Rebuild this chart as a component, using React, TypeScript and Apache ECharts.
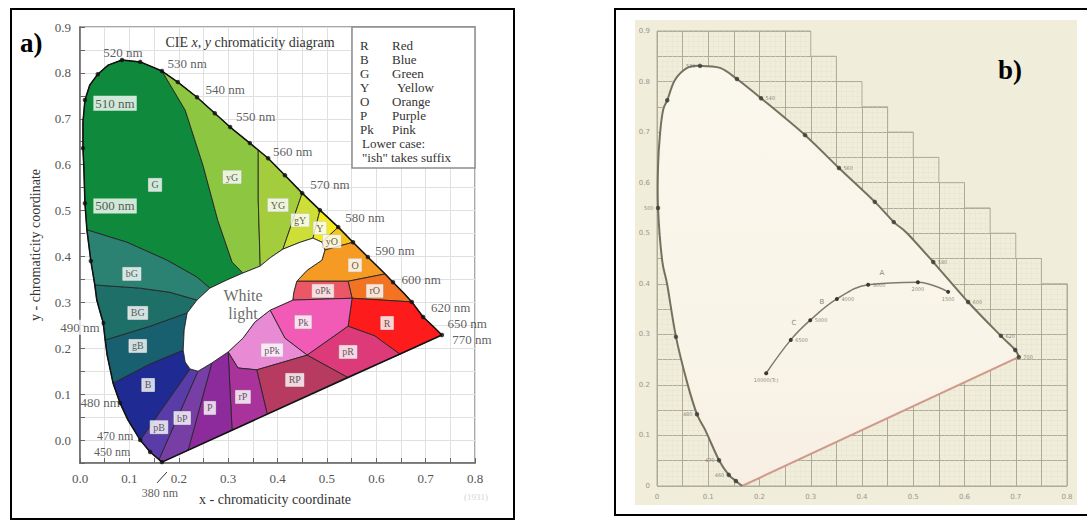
import React, { useEffect, useRef } from 'react';
import * as echarts from 'echarts';

type P = [number, number];
const SERIF = '"Liberation Serif", "DejaVu Serif", serif';
const SANS = '"DejaVu Sans", "Liberation Sans", sans-serif';

// ================= Panel a : CIE x,y diagram with colour names =================
const A_X_TICKS = [0, 0.1, 0.2, 0.3, 0.4, 0.5, 0.6, 0.7, 0.8];
const A_Y_TICKS = [0, 0.1, 0.2, 0.3, 0.4, 0.5, 0.6, 0.7, 0.8, 0.9];

// spectral locus, from 380 nm up the blue/green side and down to 770 nm
const LOCUS_A: P[] = [
  [0.166, -0.048], [0.142, -0.026], [0.122, 0.0], [0.097, 0.044], [0.081, 0.081], [0.067, 0.124],
  [0.055, 0.185], [0.051, 0.218], [0.047, 0.255], [0.034, 0.305], [0.03, 0.338], [0.022, 0.39],
  [0.014, 0.458], [0.01, 0.516], [0.008, 0.588], [0.006, 0.636], [0.006, 0.693], [0.01, 0.741],
  [0.02, 0.774], [0.036, 0.797], [0.057, 0.817], [0.085, 0.828], [0.122, 0.824], [0.166, 0.804],
  [0.198, 0.78], [0.237, 0.747], [0.273, 0.712], [0.304, 0.682], [0.344, 0.647], [0.361, 0.632],
  [0.381, 0.614], [0.415, 0.577], [0.45, 0.538], [0.486, 0.501], [0.523, 0.464], [0.553, 0.431],
  [0.583, 0.399], [0.618, 0.362], [0.634, 0.344], [0.656, 0.32], [0.672, 0.301], [0.695, 0.268],
  [0.715, 0.248], [0.733, 0.229],
];
const DOTS_A: P[] = [
  [0.166, -0.048], [0.142, -0.026], [0.122, 0.0], [0.081, 0.081], [0.047, 0.255], [0.022, 0.39],
  [0.01, 0.516], [0.006, 0.636], [0.01, 0.741], [0.036, 0.797], [0.085, 0.828], [0.122, 0.824],
  [0.166, 0.804], [0.198, 0.78], [0.237, 0.747], [0.273, 0.712], [0.304, 0.682], [0.344, 0.647],
  [0.381, 0.614], [0.415, 0.577], [0.45, 0.538], [0.486, 0.501], [0.523, 0.464], [0.553, 0.431],
  [0.583, 0.399], [0.634, 0.344], [0.672, 0.301], [0.695, 0.268], [0.733, 0.229],
];

const REG_G: P[] = [[0.014, 0.458], [0.01, 0.516], [0.008, 0.588], [0.006, 0.636], [0.006, 0.693], [0.01, 0.741], [0.02, 0.774], [0.036, 0.797], [0.057, 0.817], [0.085, 0.828], [0.122, 0.824], [0.166, 0.804], [0.213, 0.719], [0.249, 0.599], [0.279, 0.479], [0.308, 0.388], [0.33, 0.364], [0.298, 0.349], [0.263, 0.331], [0.237, 0.355], [0.176, 0.392], [0.095, 0.431]];
const REG_yG: P[] = [[0.166, 0.804], [0.198, 0.78], [0.237, 0.747], [0.273, 0.712], [0.304, 0.682], [0.344, 0.647], [0.361, 0.632], [0.361, 0.523], [0.365, 0.379], [0.33, 0.364], [0.308, 0.388], [0.279, 0.479], [0.249, 0.599], [0.213, 0.719]];
const REG_YG: P[] = [[0.361, 0.632], [0.381, 0.614], [0.415, 0.577], [0.45, 0.538], [0.411, 0.416], [0.385, 0.397], [0.365, 0.379], [0.361, 0.523]];
const REG_gY: P[] = [[0.45, 0.538], [0.486, 0.501], [0.472, 0.44], [0.446, 0.431], [0.411, 0.416]];
const REG_Y: P[] = [[0.486, 0.501], [0.523, 0.464], [0.49, 0.431], [0.472, 0.44]];
const REG_yO: P[] = [[0.523, 0.464], [0.553, 0.431], [0.496, 0.414], [0.49, 0.431]];
const REG_O: P[] = [[0.553, 0.431], [0.583, 0.399], [0.618, 0.362], [0.543, 0.346], [0.439, 0.346], [0.46, 0.37], [0.49, 0.392], [0.496, 0.414]];
const REG_rO: P[] = [[0.543, 0.346], [0.618, 0.362], [0.634, 0.344], [0.656, 0.32], [0.672, 0.301], [0.551, 0.309]];
const REG_oPk: P[] = [[0.439, 0.346], [0.543, 0.346], [0.551, 0.309], [0.431, 0.305], [0.433, 0.322]];
const REG_R: P[] = [[0.551, 0.309], [0.672, 0.301], [0.695, 0.268], [0.715, 0.248], [0.733, 0.229], [0.648, 0.187], [0.597, 0.227], [0.543, 0.248]];
const REG_Pk: P[] = [[0.431, 0.305], [0.551, 0.309], [0.543, 0.248], [0.46, 0.185], [0.415, 0.222], [0.385, 0.283]];
const REG_pR: P[] = [[0.543, 0.248], [0.597, 0.227], [0.648, 0.187], [0.541, 0.137], [0.46, 0.185]];
const REG_pPk: P[] = [[0.385, 0.283], [0.415, 0.222], [0.46, 0.185], [0.358, 0.153], [0.32, 0.157], [0.3, 0.192], [0.33, 0.222], [0.354, 0.257]];
const REG_RP: P[] = [[0.46, 0.185], [0.541, 0.137], [0.379, 0.057], [0.358, 0.153]];
const REG_rP: P[] = [[0.3, 0.192], [0.32, 0.157], [0.358, 0.153], [0.379, 0.057], [0.308, 0.022]];
const REG_P: P[] = [[0.267, 0.168], [0.3, 0.192], [0.308, 0.022], [0.219, -0.022]];
const REG_bP: P[] = [[0.239, 0.15], [0.267, 0.168], [0.219, -0.022], [0.166, -0.048], [0.16, -0.042]];
const REG_pB: P[] = [[0.223, 0.155], [0.239, 0.15], [0.16, -0.042], [0.142, -0.026], [0.122, 0.0]];
const REG_B: P[] = [[0.067, 0.124], [0.081, 0.081], [0.097, 0.044], [0.122, 0.0], [0.223, 0.155], [0.213, 0.17], [0.209, 0.196], [0.142, 0.166]];
const REG_gB: P[] = [[0.051, 0.218], [0.055, 0.185], [0.067, 0.124], [0.142, 0.166], [0.209, 0.196], [0.211, 0.24], [0.217, 0.277], [0.142, 0.248]];
const REG_BG: P[] = [[0.03, 0.338], [0.034, 0.305], [0.047, 0.255], [0.051, 0.218], [0.142, 0.248], [0.217, 0.277], [0.237, 0.305], [0.182, 0.322], [0.122, 0.331]];
const REG_bG: P[] = [[0.014, 0.458], [0.095, 0.431], [0.176, 0.392], [0.237, 0.355], [0.263, 0.331], [0.237, 0.305], [0.182, 0.322], [0.122, 0.331], [0.03, 0.338], [0.022, 0.39]];

const WHITE_A: P[] = [
  [0.209, 0.196], [0.211, 0.24], [0.217, 0.277], [0.237, 0.305], [0.263, 0.331], [0.298, 0.349],
  [0.33, 0.364], [0.365, 0.379], [0.385, 0.397], [0.411, 0.416], [0.446, 0.431], [0.472, 0.44],
  [0.49, 0.431], [0.496, 0.414], [0.49, 0.392], [0.46, 0.37], [0.439, 0.346], [0.433, 0.322],
  [0.431, 0.305], [0.385, 0.283], [0.354, 0.257], [0.33, 0.222], [0.3, 0.192], [0.267, 0.168],
  [0.239, 0.15], [0.223, 0.155], [0.213, 0.17],
];

const REGION_NAMES = ['G', 'yG', 'YG', 'gY', 'Y', 'yO', 'O', 'rO', 'oPk', 'R', 'Pk', 'pR', 'pPk', 'RP', 'rP', 'P', 'bP', 'pB', 'B', 'gB', 'BG', 'bG'];
const REGION_COLORS = ['#0f8a3c', '#8dc640', '#a3cd3c', '#cddf36', '#f3ea1f', '#f6c51c', '#f59a23', '#f27322', '#ec5768', '#fd1b1b', '#f15bb5', '#dc3a78', '#e98ad4', '#b73a60', '#a9339a', '#8d2b9d', '#773fa6', '#5a3ca8', '#1f2b93', '#186070', '#1e6f68', '#2b8172'];
const REGION_SHAPES = [REG_G, REG_yG, REG_YG, REG_gY, REG_Y, REG_yO, REG_O, REG_rO, REG_oPk, REG_R, REG_Pk, REG_pR, REG_pPk, REG_RP, REG_rP, REG_P, REG_bP, REG_pB, REG_B, REG_gB, REG_BG, REG_bG];
const REGION_LABEL_AT: P[] = [[0.152, 0.556], [0.308, 0.573], [0.401, 0.512], [0.446, 0.479], [0.486, 0.462], [0.51, 0.433], [0.557, 0.381], [0.597, 0.325], [0.492, 0.325], [0.622, 0.255], [0.452, 0.257], [0.543, 0.192], [0.389, 0.196], [0.435, 0.131], [0.33, 0.094], [0.263, 0.07], [0.207, 0.048], [0.16, 0.028], [0.138, 0.12], [0.117, 0.205], [0.117, 0.277], [0.105, 0.362]];

const NM_NAMES_A = ['520 nm', '530 nm', '540 nm', '550 nm', '560 nm', '570 nm', '580 nm', '590 nm', '600 nm', '620 nm', '650 nm', '770 nm', '510 nm', '500 nm', '490 nm', '480 nm', '470 nm', '450 nm', '380 nm'];
const NM_AT_A: P[] = [[0.087, 0.845], [0.217, 0.821], [0.294, 0.763], [0.356, 0.704], [0.431, 0.628], [0.506, 0.556], [0.577, 0.486], [0.638, 0.414], [0.691, 0.349], [0.751, 0.288], [0.784, 0.253], [0.794, 0.22], [0.071, 0.734], [0.071, 0.51], [0.0, 0.246], [0.041, 0.081], [0.071, 0.008], [0.065, -0.026], [0.162, -0.116]];
const NM_BOXED_A = ['510 nm', '500 nm', '490 nm'];
const NM_SMALL_A = ['470 nm', '450 nm', '380 nm'];
const CONNECTOR_380: P[] = [[0.156, -0.0935], [0.176, -0.0697]];

const LEGEND_CODES = ['R', 'B', 'G', 'Y', 'O', 'P', 'Pk'];
const LEGEND_NAMES = ['Red', 'Blue', 'Green', 'Yellow', 'Orange', 'Purple', 'Pink'];
const LEGEND_NOTES = ['Lower case:', '"ish" takes suffix'];

// ================= Panel b : CIE 1931 diagram with Planckian locus =================
const B_X_TICKS = [0, 0.1, 0.2, 0.3, 0.4, 0.5, 0.6, 0.7, 0.8];
const B_Y_TICKS = [0, 0.1, 0.2, 0.3, 0.4, 0.5, 0.6, 0.7, 0.8, 0.9];

const LOCUS_B: P[] = [
  [0.166, 0.0], [0.154, 0.01], [0.14, 0.022], [0.121, 0.051], [0.094, 0.111], [0.078, 0.142],
  [0.059, 0.204], [0.037, 0.295], [0.02, 0.398], [0.01, 0.447], [0.002, 0.55], [0.002, 0.631],
  [0.006, 0.698], [0.012, 0.744], [0.02, 0.763], [0.035, 0.803], [0.059, 0.827], [0.084, 0.831],
  [0.123, 0.827], [0.156, 0.805], [0.203, 0.767], [0.289, 0.694], [0.355, 0.629], [0.425, 0.562],
  [0.462, 0.522], [0.488, 0.5], [0.539, 0.443], [0.607, 0.364], [0.671, 0.297], [0.699, 0.269],
  [0.706, 0.255],
];
const DOTS_B: P[] = [
  [0.154, 0.01], [0.14, 0.022], [0.121, 0.051], [0.078, 0.142], [0.037, 0.295], [0.002, 0.55],
  [0.02, 0.763], [0.084, 0.831], [0.156, 0.805], [0.203, 0.767], [0.289, 0.694], [0.355, 0.629],
  [0.425, 0.562], [0.462, 0.522], [0.539, 0.443], [0.607, 0.364], [0.671, 0.297], [0.699, 0.269],
  [0.706, 0.255],
];
const PLANCK_B: P[] = [[0.213, 0.223], [0.261, 0.289], [0.299, 0.328], [0.351, 0.37], [0.412, 0.398], [0.509, 0.403], [0.568, 0.384]];
const STAIR_B: P[] = [
  [0.3, 0.9], [0.3, 0.85], [0.35, 0.85], [0.35, 0.8], [0.4, 0.8], [0.4, 0.75], [0.45, 0.75],
  [0.45, 0.7], [0.5, 0.7], [0.5, 0.65], [0.55, 0.65], [0.55, 0.6], [0.6, 0.6], [0.6, 0.55],
  [0.65, 0.55], [0.65, 0.5], [0.7, 0.5], [0.7, 0.45], [0.75, 0.45], [0.75, 0.4], [0.8, 0.4],
];
const TINY_NAMES_B = ['520', '540', '560', '580', '600', '620', '700', '500', '480', '470', '460', '10000(Tc)', '6500', '5000', '4000', '3000', '2000', '1500', 'A', 'B', 'C'];
const TINY_AT_B: P[] = [[0.084, 0.831], [0.203, 0.767], [0.355, 0.629], [0.539, 0.443], [0.607, 0.364], [0.671, 0.297], [0.706, 0.255], [0.002, 0.55], [0.078, 0.142], [0.121, 0.051], [0.14, 0.022], [0.213, 0.223], [0.261, 0.289], [0.299, 0.328], [0.351, 0.37], [0.412, 0.398], [0.509, 0.403], [0.568, 0.384], [0.439, 0.421], [0.322, 0.364], [0.267, 0.322]];
const TINY_POS_B = ['left', 'right', 'right', 'right', 'right', 'right', 'right', 'left', 'left', 'left', 'left', 'bottom', 'right', 'right', 'right', 'right', 'bottom', 'bottom', 'inside', 'inside', 'inside'];

const BG_B = '#f1eddb';

const isTick = (ticks: number[], v: number) => ticks.some((t) => Math.abs(t - v) < 1e-6);

function smoothD(pts: number[][]): string {
  let d = `M${pts[0][0]},${pts[0][1]}`;
  for (let i = 0; i < pts.length - 1; i++) {
    const p0 = pts[i - 1] || pts[i];
    const p1 = pts[i];
    const p2 = pts[i + 1];
    const p3 = pts[i + 2] || p2;
    const c1x = p1[0] + (p2[0] - p0[0]) / 6;
    const c1y = p1[1] + (p2[1] - p0[1]) / 6;
    const c2x = p2[0] - (p3[0] - p1[0]) / 6;
    const c2y = p2[1] - (p3[1] - p1[1]) / 6;
    d += ` C${c1x},${c1y} ${c2x},${c2y} ${p2[0]},${p2[1]}`;
  }
  return d;
}

function txt(text: string, x: number, y: number, font: string, align = 'left', fill = '#222', extra: any = {}) {
  return {
    type: 'text', z: 100, x, y, ...extra,
    style: { text, font, fill, align, textAlign: align, verticalAlign: 'middle', textVerticalAlign: 'middle' },
  };
}

function buildOption(): any {
  const graphics: any[] = [
    { type: 'rect', z: -10, shape: { x: 635, y: 20, width: 442, height: 485 }, style: { fill: BG_B } },
    { type: 'rect', z: 100, shape: { x: 11, y: 9, width: 503, height: 510 }, style: { fill: 'none', stroke: '#000', lineWidth: 2 } },
    { type: 'rect', z: 100, shape: { x: 615, y: 9, width: 480, height: 506 }, style: { fill: 'none', stroke: '#000', lineWidth: 2 } },
    { type: 'rect', z: 50, shape: { x: 352, y: 27, width: 123, height: 141 }, style: { fill: '#fff', stroke: '#8c8c8c', lineWidth: 1.5 } },
    txt('a)', 20, 43, `bold 27px ${SERIF}`, 'left', '#000'),
    txt('b)', 998, 70, `bold 27px ${SERIF}`, 'left', '#000'),
    {
      type: 'text', z: 100, x: 250, y: 42,
      style: {
        text: '{n|CIE }{i|x, y}{n| chromaticity diagram}',
        align: 'center', textAlign: 'center', verticalAlign: 'middle', textVerticalAlign: 'middle',
        rich: {
          n: { fontFamily: SERIF, fontSize: 14, fill: '#333', color: '#333' },
          i: { fontFamily: SERIF, fontSize: 14, fontStyle: 'italic', fill: '#333', color: '#333' },
        },
      },
    },
    txt('y - chromaticity coordinate', 35, 245, `14px ${SERIF}`, 'center', '#333', { rotation: Math.PI / 2 }),
    txt('x - chromaticity coordinate', 275, 499, `14px ${SERIF}`, 'center', '#333'),
    txt('(1931)', 476, 497, `9px ${SERIF}`, 'center', '#d4d4d4'),
  ];
  LEGEND_CODES.forEach((c, i) => {
    graphics.push(txt(c, 360, 45 + i * 14, `13px ${SERIF}`, 'left', '#333'));
    graphics.push(txt(LEGEND_NAMES[i], c === 'Y' ? 397 : 392, 45 + i * 14, `13px ${SERIF}`, 'left', '#333'));
  });
  LEGEND_NOTES.forEach((n, i) => graphics.push(txt(n, 362, 143 + i * 14, `13px ${SERIF}`, 'left', '#333')));

  const fmtA = (ticks: number[]) => (v: number) => (isTick(ticks, v) ? v.toFixed(1) : '');
  const fmtB = (ticks: number[]) => (v: number) => (isTick(ticks, v) ? (Math.abs(v) < 1e-9 ? '0' : v.toFixed(1)) : '');

  const axisA = (ticks: number[]) => ({
    axisLine: { show: true, onZero: false, lineStyle: { color: '#666', width: 1.5 } },
    axisTick: { show: true, inside: true, length: 5, lineStyle: { color: '#666' } },
    axisLabel: { formatter: fmtA(ticks), color: '#555', fontFamily: SERIF, fontSize: 13, margin: 9 },
    splitLine: { show: true, lineStyle: { color: '#e0e0e0', width: 1 } },
  });
  const axisB = (ticks: number[]) => ({
    axisLine: { show: false, onZero: false },
    axisTick: { show: false },
    axisLabel: { formatter: fmtB(ticks), color: '#9a978a', fontFamily: SANS, fontSize: 7, margin: 7 },
    splitLine: { show: true, lineStyle: { color: '#aeab99', width: 1 } },
    minorTick: { show: false, splitNumber: 5 },
    minorSplitLine: { show: true, lineStyle: { color: '#e7e3d1', width: 0.5 } },
  });

  const gradient = new echarts.graphic.LinearGradient(0, 0, 0, 1, [
    { offset: 0, color: '#faf7ec' },
    { offset: 0.7, color: '#f9f4e8' },
    { offset: 1, color: '#f8eee4' },
  ]);

  return {
    animation: false,
    backgroundColor: '#fff',
    graphic: { elements: graphics },
    grid: [
      { left: 80, top: 27, width: 395, height: 436, show: true, borderColor: '#8c8c8c', borderWidth: 1.5, backgroundColor: 'transparent' },
      { left: 657, top: 31, width: 410, height: 455, show: false },
    ],
    xAxis: [
      { gridIndex: 0, type: 'value', min: 0, max: 0.8, interval: 0.05, ...axisA(A_X_TICKS) },
      { gridIndex: 1, type: 'value', min: 0, max: 0.8, interval: 0.05, ...axisB(B_X_TICKS) },
    ],
    yAxis: [
      { gridIndex: 0, type: 'value', min: -0.05, max: 0.9, interval: 0.05, ...axisA(A_Y_TICKS) },
      { gridIndex: 1, type: 'value', min: 0, max: 0.9, interval: 0.05, ...axisB(B_Y_TICKS) },
    ],
    series: [
      // ----- panel a -----
      {
        type: 'custom', name: 'regions', xAxisIndex: 0, yAxisIndex: 0, silent: true, z: 2,
        data: REGION_SHAPES.map((s) => s[0]),
        renderItem: (params: any, api: any) => ({
          type: 'polygon',
          shape: { points: REGION_SHAPES[params.dataIndex].map((p) => api.coord(p)) },
          style: { fill: REGION_COLORS[params.dataIndex], stroke: '#262626', lineWidth: 0.9 },
        }),
      },
      {
        type: 'custom', name: 'white', xAxisIndex: 0, yAxisIndex: 0, silent: true, z: 2,
        data: [WHITE_A[0]],
        renderItem: (_p: any, api: any) => ({
          type: 'polygon',
          shape: { points: WHITE_A.map((p) => api.coord(p)) },
          style: { fill: '#fff', stroke: '#262626', lineWidth: 0.9 },
        }),
      },
      {
        type: 'line', name: 'locusA', xAxisIndex: 0, yAxisIndex: 0, data: LOCUS_A, symbol: 'none', silent: true, clip: false, z: 3,
        lineStyle: { color: '#111', width: 1.5 },
      },
      {
        type: 'line', name: 'purpleA', xAxisIndex: 0, yAxisIndex: 0, data: [LOCUS_A[0], LOCUS_A[LOCUS_A.length - 1]], symbol: 'none', silent: true, clip: false, z: 3,
        lineStyle: { color: '#111', width: 1.5 },
      },
      {
        type: 'line', name: 'conn380', xAxisIndex: 0, yAxisIndex: 0, data: CONNECTOR_380, symbol: 'none', silent: true, clip: false, z: 3,
        lineStyle: { color: '#333', width: 1 },
      },
      {
        type: 'scatter', name: 'dotsA', xAxisIndex: 0, yAxisIndex: 0, data: DOTS_A, symbolSize: 4.5, silent: true, clip: false, z: 4,
        itemStyle: { color: '#111' },
      },
      {
        type: 'scatter', name: 'regionLabels', xAxisIndex: 0, yAxisIndex: 0, silent: true, clip: false, z: 5,
        symbolSize: 1, itemStyle: { color: 'rgba(0,0,0,0)' },
        data: REGION_NAMES.map((n, i) => ({ name: n, value: REGION_LABEL_AT[i] })),
        label: {
          show: true, position: 'inside', formatter: '{b}', fontFamily: SERIF, fontSize: 10, color: '#333',
          backgroundColor: '#fff', padding: [2, 3, 1, 3], borderColor: '#bbb', borderWidth: 0.5,
        },
      },
      {
        type: 'scatter', name: 'whiteLight', xAxisIndex: 0, yAxisIndex: 0, silent: true, clip: false, z: 5,
        symbolSize: 1, itemStyle: { color: 'rgba(0,0,0,0)' },
        data: [{ name: 'White\nlight', value: [0.33, 0.296] }],
        label: { show: true, position: 'inside', formatter: '{b}', fontFamily: SERIF, fontSize: 16, lineHeight: 18, color: '#444' },
      },
      {
        type: 'scatter', name: 'nmLabels', xAxisIndex: 0, yAxisIndex: 0, silent: true, clip: false, z: 5,
        symbolSize: 1, itemStyle: { color: 'rgba(0,0,0,0)' },
        data: NM_NAMES_A.map((n, i) => ({
          name: n, value: NM_AT_A[i],
          label: NM_BOXED_A.includes(n)
            ? { backgroundColor: '#fff', padding: [1, 2] }
            : NM_SMALL_A.includes(n) ? { fontSize: 12 } : {},
        })),
        label: { show: true, position: 'inside', formatter: '{b}', fontFamily: SERIF, fontSize: 13, color: '#333' },
      },
      // ----- panel b -----
      {
        type: 'custom', name: 'maskB', xAxisIndex: 1, yAxisIndex: 1, silent: true, z: 1,
        data: [[0, 0]],
        renderItem: (_p: any, api: any) => {
          const mask = ([[0.3, 0.915]] as P[]).concat(STAIR_B, [[0.815, 0.4], [0.815, 0.915]] as P[]).map((p) => api.coord(p));
          const outline = ([[0, 0], [0, 0.9]] as P[]).concat(STAIR_B, [[0.8, 0], [0, 0]] as P[]).map((p) => api.coord(p));
          return {
            type: 'group',
            children: [
              { type: 'polygon', shape: { points: mask }, style: { fill: BG_B } },
              { type: 'polyline', shape: { points: outline }, style: { fill: 'none', stroke: '#aeab99', lineWidth: 1 } },
            ],
          };
        },
      },
      {
        type: 'custom', name: 'locusB', xAxisIndex: 1, yAxisIndex: 1, silent: true, z: 2,
        data: [LOCUS_B[0]],
        renderItem: (_p: any, api: any) => {
          const px = LOCUS_B.map((p) => api.coord(p));
          const curve = smoothD(px);
          const a = px[0];
          const b = px[px.length - 1];
          return {
            type: 'group',
            children: [
              { type: 'path', shape: { pathData: `${curve} L${a[0]},${a[1]} Z` }, style: { fill: gradient } },
              { type: 'line', shape: { x1: a[0], y1: a[1], x2: b[0], y2: b[1] }, style: { stroke: '#cf9a8c', lineWidth: 2 } },
              { type: 'path', shape: { pathData: curve }, style: { fill: 'none', stroke: '#74725f', lineWidth: 2 } },
            ],
          };
        },
      },
      {
        type: 'line', name: 'planck', xAxisIndex: 1, yAxisIndex: 1, data: PLANCK_B, smooth: 0.4, silent: true, z: 3,
        symbol: 'circle', symbolSize: 4, showSymbol: true, showAllSymbol: true,
        itemStyle: { color: '#3a3934' }, lineStyle: { color: '#7d7b6e', width: 1.5 },
      },
      {
        type: 'scatter', name: 'dotsB', xAxisIndex: 1, yAxisIndex: 1, data: DOTS_B, symbolSize: 4.5, silent: true, z: 4,
        itemStyle: { color: '#3a3934' },
      },
      {
        type: 'scatter', name: 'tinyB', xAxisIndex: 1, yAxisIndex: 1, silent: true, clip: false, z: 5,
        symbolSize: 1, itemStyle: { color: 'rgba(0,0,0,0)' },
        data: TINY_NAMES_B.map((n, i) => ({
          name: n, value: TINY_AT_B[i],
          label: { position: TINY_POS_B[i], fontSize: TINY_POS_B[i] === 'inside' ? 7 : 5 },
        })),
        label: { show: true, formatter: '{b}', fontFamily: SANS, fontSize: 5, color: '#6b6a5e', distance: 4 },
      },
    ],
  };
}

export default function App() {
  const ref = useRef<HTMLDivElement>(null);
  useEffect(() => {
    if (!ref.current) return;
    const chart = echarts.init(ref.current, undefined, { renderer: 'svg' });
    chart.setOption(buildOption());
    return () => chart.dispose();
  }, []);
  return <div ref={ref} style={{ position: 'absolute', left: 0, top: 0, width: 1087, height: 520 }} />;
}
